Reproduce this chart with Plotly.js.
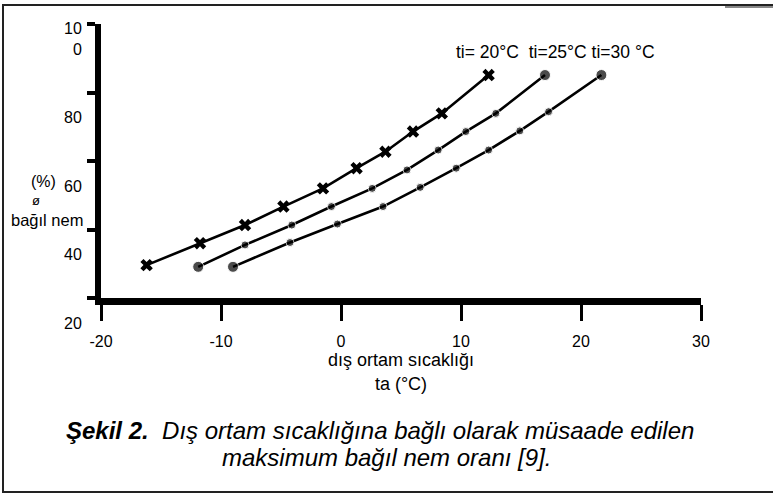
<!DOCTYPE html>
<html>
<head>
<meta charset="utf-8">
<script src="https://cdn.plot.ly/plotly-3.0.1.min.js"></script>
<style>html,body{margin:0;padding:0;background:#fff;}</style>
</head>
<body>
<div id="chart" style="width:773px;height:494px;"></div>
<script>
// ---- data ----
const seriesNames = ['ti=20°C', 'ti=25°C', 'ti=30°C'];
const ta20  = [-16.2, -11.75, -8.0, -4.8, -1.5, 1.3, 3.7, 6.0, 8.4, 12.3];
const phi20 = [29.6, 36.0, 41.3, 46.7, 52.0, 57.9, 62.7, 68.6, 73.9, 85.1];
const ta25  = [-11.9, -8.0, -4.1, -0.8, 2.6, 5.5, 8.1, 10.4, 12.9, 17.0];
const phi25 = [29.1, 35.5, 41.3, 46.7, 52.0, 57.4, 63.2, 68.6, 73.9, 85.1];
const ta30  = [-9.0, -4.25, -0.3, 3.5, 6.6, 9.6, 12.3, 14.9, 17.3, 21.7];
const phi30 = [29.1, 36.2, 41.6, 46.7, 52.3, 57.9, 63.2, 68.8, 74.4, 85.1];
const xTickVals = [-20, -10, 0, 10, 20, 30];
const xTickText = ['-20', '-10', '0', '10', '20', '30'];
const yTickVals = [20, 40, 60, 80, 100];
const yTickText = ['20', '40', '60', '80', '10<br>0<br>\u00a0'];
const seriesLabel = 'ti=\u00a020°C\u00a0\u00a0ti=25°C\u00a0ti=30\u00a0°C';
const xTitle = 'dış ortam sıcaklığı<br>ta (°C)';
const yTitleLines = ['(%)', 'ø', 'bağıl nem'];
const caption1 = '<b><i>Şekil 2.</i></b><i>\u00a0\u00a0Dış ortam sıcaklığına bağlı olarak müsaade edilen</i>';
const caption2 = '<i>maksimum bağıl nem oranı [9].</i>';

// ---- layout geometry ----
const W = 773, H = 494;
const M = {l: 101, r: 72, t: 24, b: 196};
const PW = W - M.l - M.r, PH = H - M.t - M.b;
const px = v => (v - M.l) / PW;          // pixel x -> paper
const py = v => (H - M.b - v) / PH;      // pixel y -> paper
const FONT = 'Arial, "Liberation Sans", sans-serif';

function endSizes(n, small, big) {
  return Array.from({length: n}, (_, i) => (i === 0 || i === n - 1) ? big : small);
}

const lineStyle = {color: '#000', width: 2.6};
const traces = [
  {x: ta20, y: phi20, name: seriesNames[0], mode: 'lines+markers', line: lineStyle,
   marker: {symbol: 'x', size: 11, color: '#000'}},
  {x: ta25, y: phi25, name: seriesNames[1], mode: 'lines+markers', line: lineStyle,
   marker: {symbol: 'circle', size: endSizes(ta25.length, 8, 11), color: '#000'}},
  {x: ta30, y: phi30, name: seriesNames[2], mode: 'lines+markers', line: lineStyle,
   marker: {symbol: 'circle', size: endSizes(ta30.length, 8, 11), color: '#000'}}
];

const yTitlePos = [{x: 43, y: 181, s: 16}, {x: 36, y: 200, s: 13}, {x: 47, y: 220, s: 16.5}];
const yTitleAnns = yTitleLines.map((t, i) => ({
  text: t, xref: 'paper', yref: 'paper', x: px(yTitlePos[i].x), y: py(yTitlePos[i].y),
  xanchor: 'center', yanchor: 'middle', showarrow: false, borderpad: 0,
  font: {size: yTitlePos[i].s}
}));

const layout = {
  width: W, height: H,
  margin: M,
  paper_bgcolor: '#fff', plot_bgcolor: '#fff',
  showlegend: false,
  font: {family: FONT, color: '#000', size: 16},
  xaxis: {
    range: [-20, 30], tickmode: 'array', tickvals: xTickVals, ticktext: xTickText,
    ticks: 'outside', ticklen: 16, tickwidth: 3, tickcolor: '#000',
    showline: true, linewidth: 7, linecolor: '#000',
    showgrid: false, zeroline: false,
    tickfont: {size: 16}, ticklabelstandoff: 7,
    title: {text: xTitle, font: {size: 18}, standoff: 6.5}
  },
  yaxis: {
    range: [20, 100], tickmode: 'array', tickvals: yTickVals, ticktext: yTickText,
    ticks: 'outside', ticklen: 8, tickwidth: 4, tickcolor: '#000',
    showline: true, linewidth: 6, linecolor: '#000',
    showgrid: false, zeroline: false,
    tickfont: {size: 16}, ticklabelshift: 25, ticklabelstandoff: 2
  },
  annotations: yTitleAnns.concat([
    {text: seriesLabel, xref: 'paper', yref: 'paper', x: px(454), y: py(52),
     xanchor: 'left', yanchor: 'middle', showarrow: false, font: {size: 17.5}},
    {text: caption1, xref: 'paper', yref: 'paper', x: px(380), y: py(430),
     xanchor: 'center', yanchor: 'middle', showarrow: false, font: {size: 24}},
    {text: caption2, xref: 'paper', yref: 'paper', x: px(386), y: py(457),
     xanchor: 'center', yanchor: 'middle', showarrow: false, font: {size: 24}}
  ]),
  shapes: [
    {type: 'rect', xref: 'paper', yref: 'paper', x0: px(3), x1: px(780), y0: py(492), y1: py(5),
     line: {color: '#222', width: 2}, fillcolor: 'rgba(0,0,0,0)', layer: 'below'},
    {type: 'line', xref: 'paper', yref: 'paper', x0: px(725), x1: px(773), y0: py(7), y1: py(7),
     line: {color: '#888', width: 2}}
  ]
};

Plotly.newPlot('chart', traces, layout, {displayModeBar: false, staticPlot: true});
</script>
</body>
</html>
